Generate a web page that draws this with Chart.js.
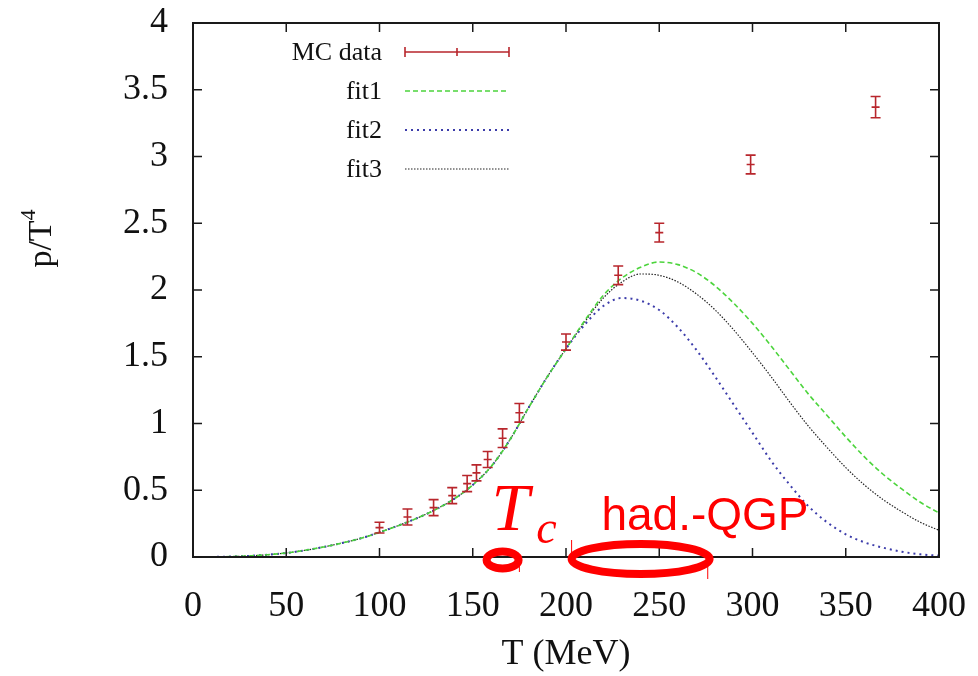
<!DOCTYPE html>
<html>
<head>
<meta charset="utf-8">
<script src="https://cdn.jsdelivr.net/npm/chart.js@4.4.1/dist/chart.umd.min.js"></script>
<style>
  html, body { margin: 0; padding: 0; background: #fff; }
  #wrap { width: 978px; height: 676px; position: relative; }
</style>
</head>
<body>
<div id="wrap"><canvas id="myChart"></canvas></div>
<script>
'use strict';

//////////////////////
// data
//////////////////////

const mcT = [100, 115, 129, 139, 147, 152, 158, 166, 175, 200, 228, 250, 299, 366];
const mcP = [0.22, 0.30, 0.37, 0.46, 0.55, 0.63, 0.73, 0.89, 1.08, 1.61, 2.11, 2.43, 2.94, 3.37];
const mcErr = [0.04, 0.06, 0.06, 0.06, 0.06, 0.06, 0.06, 0.07, 0.07, 0.06, 0.07, 0.07, 0.07, 0.08];

const fitT = [0, 10, 20, 30, 40, 50, 60, 70, 80, 90, 100, 110, 120, 130, 140, 150, 160, 170, 180, 190,
  200, 210, 220, 230, 240, 250, 260, 270, 280, 290, 300, 310, 320, 330, 340, 350, 360, 370, 380, 390, 400];
const fit1 = [0, 0.0005, 0.003, 0.008, 0.017, 0.03, 0.05, 0.075, 0.105, 0.14, 0.185, 0.235, 0.29, 0.355, 0.435, 0.54, 0.68, 0.88, 1.12, 1.35,
  1.56, 1.77, 1.96, 2.09, 2.17, 2.21, 2.19, 2.13, 2.03, 1.90, 1.75, 1.58, 1.40, 1.22, 1.06, 0.90, 0.75, 0.62, 0.51, 0.41, 0.33];
const fit2 = [0, 0.0005, 0.003, 0.008, 0.017, 0.03, 0.05, 0.075, 0.105, 0.14, 0.185, 0.235, 0.29, 0.355, 0.435, 0.54, 0.68, 0.88, 1.12, 1.35,
  1.56, 1.74, 1.88, 1.94, 1.92, 1.85, 1.72, 1.55, 1.35, 1.14, 0.93, 0.72, 0.54, 0.38, 0.26, 0.17, 0.11, 0.07, 0.04, 0.02, 0.01];
const fit3 = [0, 0.0005, 0.003, 0.008, 0.017, 0.03, 0.05, 0.075, 0.105, 0.14, 0.185, 0.235, 0.29, 0.355, 0.435, 0.54, 0.68, 0.88, 1.12, 1.35,
  1.56, 1.76, 1.94, 2.06, 2.12, 2.11, 2.06, 1.97, 1.85, 1.70, 1.53, 1.35, 1.16, 0.98, 0.82, 0.67, 0.54, 0.43, 0.34, 0.26, 0.20];

const xTicks = [0, 50, 100, 150, 200, 250, 300, 350, 400];
const yTicks = [0, 0.5, 1, 1.5, 2, 2.5, 3, 3.5, 4];
const legendLabels = ['MC data', 'fit1', 'fit2', 'fit3'];

//////////////////////
// styles
//////////////////////

const serif = '"Liberation Serif", "DejaVu Serif", serif';
const red = '#b8262c';
const green = '#4cd43c';
const blue = '#3c3caa';
const black = '#222222';
const annot = '#ff0000';

function toPoints(xs, ys) {
  return xs.map((x, i) => ({ x: x, y: ys[i] }));
}

// error bars, frame, inward ticks, legend, titles and the red notes
const decorPlugin = {
  id: 'decor',
  afterDatasetsDraw(chart) {
    const ctx = chart.ctx;
    const xs = chart.scales.x;
    const ys = chart.scales.y;
    ctx.save();
    ctx.strokeStyle = red;
    ctx.lineWidth = 1.6;
    for (let i = 0; i < mcT.length; i++) {
      const px = xs.getPixelForValue(mcT[i]);
      const top = ys.getPixelForValue(mcP[i] + mcErr[i]);
      const bot = ys.getPixelForValue(mcP[i] - mcErr[i]);
      const mid = ys.getPixelForValue(mcP[i]);
      ctx.beginPath();
      ctx.moveTo(px, top); ctx.lineTo(px, bot);
      ctx.moveTo(px - 5, top); ctx.lineTo(px + 5, top);
      ctx.moveTo(px - 5, bot); ctx.lineTo(px + 5, bot);
      ctx.moveTo(px - 4, mid); ctx.lineTo(px + 4, mid);
      ctx.stroke();
    }
    ctx.restore();
  },
  afterDraw(chart) {
    const ctx = chart.ctx;
    const a = chart.chartArea;
    const xs = chart.scales.x;
    const ys = chart.scales.y;
    ctx.save();

    // frame
    ctx.strokeStyle = '#1a1a1a';
    ctx.lineWidth = 2;
    ctx.strokeRect(a.left, a.top, a.right - a.left, a.bottom - a.top);

    // inward ticks on all four sides
    ctx.lineWidth = 1.5;
    ctx.beginPath();
    for (const t of xTicks) {
      const px = xs.getPixelForValue(t);
      ctx.moveTo(px, a.bottom); ctx.lineTo(px, a.bottom - 9);
      ctx.moveTo(px, a.top); ctx.lineTo(px, a.top + 9);
    }
    for (const t of yTicks) {
      const py = ys.getPixelForValue(t);
      ctx.moveTo(a.left, py); ctx.lineTo(a.left + 9, py);
      ctx.moveTo(a.right, py); ctx.lineTo(a.right - 9, py);
    }
    ctx.stroke();

    // legend, gnuplot style
    const rowY = [52, 91, 130, 169];
    const textRight = a.left + 189;
    const s0 = a.left + 212;
    const s1 = a.left + 316;
    ctx.font = '26px ' + serif;
    ctx.fillStyle = '#111';
    ctx.textAlign = 'right';
    ctx.textBaseline = 'middle';
    legendLabels.forEach((lab, i) => ctx.fillText(lab, textRight, rowY[i] + 1));

    ctx.strokeStyle = red;
    ctx.lineWidth = 1.6;
    ctx.beginPath();
    ctx.moveTo(s0, rowY[0]); ctx.lineTo(s1, rowY[0]);
    ctx.moveTo(s0, rowY[0] - 5); ctx.lineTo(s0, rowY[0] + 5);
    ctx.moveTo(s1, rowY[0] - 5); ctx.lineTo(s1, rowY[0] + 5);
    const sm = (s0 + s1) / 2;
    ctx.moveTo(sm, rowY[0] - 4); ctx.lineTo(sm, rowY[0] + 4);
    ctx.stroke();

    const samples = [
      { c: green, w: 1.6, d: [5, 3] },
      { c: blue, w: 2, d: [2, 4] },
      { c: black, w: 1.2, d: [1.5, 1.5] }
    ];
    samples.forEach((s, i) => {
      ctx.strokeStyle = s.c;
      ctx.lineWidth = s.w;
      ctx.setLineDash(s.d);
      ctx.beginPath();
      ctx.moveTo(s0, rowY[i + 1]); ctx.lineTo(s1, rowY[i + 1]);
      ctx.stroke();
    });
    ctx.setLineDash([]);

    // axis titles
    ctx.fillStyle = '#111';
    ctx.font = '36px ' + serif;
    ctx.textAlign = 'center';
    ctx.textBaseline = 'middle';
    ctx.fillText('T (MeV)', (a.left + a.right) / 2, 655);

    ctx.save();
    ctx.translate(42, 238);
    ctx.rotate(-Math.PI / 2);
    ctx.textAlign = 'left';
    ctx.font = '34px ' + serif;
    const w = ctx.measureText('p/T').width;
    ctx.fillText('p/T', -w / 2 - 6, 0);
    ctx.font = '22px ' + serif;
    ctx.fillText('4', w / 2 - 6, -13);
    ctx.restore();

    // red notes: Tc and had.-QGP
    const y0 = ys.getPixelForValue(0);
    ctx.fillStyle = annot;
    ctx.strokeStyle = annot;
    ctx.textAlign = 'left';
    ctx.textBaseline = 'alphabetic';
    ctx.font = 'italic 68px ' + serif;
    ctx.fillText('T', xs.getPixelForValue(160), y0 - 27);
    ctx.font = 'italic 46px ' + serif;
    ctx.fillText('c', xs.getPixelForValue(184), y0 - 14);
    ctx.font = '46px "Liberation Sans", Arial, sans-serif';
    ctx.fillText('had.-QGP', xs.getPixelForValue(219), y0 - 27);

    ctx.lineWidth = 8;
    ctx.beginPath();
    ctx.ellipse(xs.getPixelForValue(166), y0 + 3, 16, 8.5, 0, 0, Math.PI * 2);
    ctx.stroke();
    ctx.beginPath();
    ctx.ellipse(xs.getPixelForValue(240), y0 + 2, 69, 15, 0, 0, Math.PI * 2);
    ctx.stroke();

    ctx.lineWidth = 1;
    ctx.beginPath();
    ctx.moveTo(xs.getPixelForValue(175), y0 + 2); ctx.lineTo(xs.getPixelForValue(175), y0 + 15);
    ctx.moveTo(xs.getPixelForValue(203), y0 - 17); ctx.lineTo(xs.getPixelForValue(203), y0);
    ctx.moveTo(xs.getPixelForValue(276), y0 + 8); ctx.lineTo(xs.getPixelForValue(276), y0 + 22);
    ctx.stroke();

    ctx.restore();
  }
};

function lineSet(label, ys, color, width, dash) {
  return {
    label: label,
    data: toPoints(fitT, ys),
    showLine: true,
    borderColor: color,
    borderWidth: width,
    borderDash: dash,
    pointRadius: 0,
    cubicInterpolationMode: 'monotone',
    fill: false
  };
}

const data = {
  datasets: [
    lineSet('fit1', fit1, green, 1.6, [5, 3]),
    lineSet('fit2', fit2, blue, 2, [2, 4]),
    lineSet('fit3', fit3, black, 1.2, [1.5, 1.5]),
    {
      label: 'MC data',
      data: toPoints(mcT, mcP),
      showLine: false,
      pointRadius: 0,
      borderColor: red,
      backgroundColor: red
    }
  ]
};

const config = {
  type: 'scatter',
  data: data,
  options: {
    responsive: true,
    maintainAspectRatio: false,
    animation: false,
    layout: { padding: { left: 0, right: 39, top: 23, bottom: 0 } },
    plugins: {
      legend: { display: false },
      tooltip: { enabled: false }
    },
    scales: {
      x: {
        type: 'linear',
        min: 0,
        max: 400,
        afterBuildTicks: (scale) => { scale.ticks = xTicks.map(v => ({ value: v })); },
        afterFit: (scale) => {
          scale.height = 119;
          scale.paddingLeft = 0;
          scale.paddingRight = 0;
        },
        border: { display: false },
        grid: { display: false, drawTicks: false },
        ticks: {
          padding: 28,
          color: '#111',
          font: { family: serif, size: 36 },
          maxRotation: 0
        }
      },
      y: {
        type: 'linear',
        min: 0,
        max: 4,
        afterBuildTicks: (scale) => { scale.ticks = yTicks.map(v => ({ value: v })); },
        afterFit: (scale) => {
          scale.width = 193;
          scale.paddingTop = 0;
          scale.paddingBottom = 0;
        },
        border: { display: false },
        grid: { display: false, drawTicks: false },
        ticks: {
          padding: 25,
          color: '#111',
          font: { family: serif, size: 36 },
          callback: (v) => String(v)
        }
      }
    }
  },
  plugins: [decorPlugin]
};

let canvasChart = document.getElementById('myChart');
const myChart = new Chart(canvasChart, config);
</script>
</body>
</html>
